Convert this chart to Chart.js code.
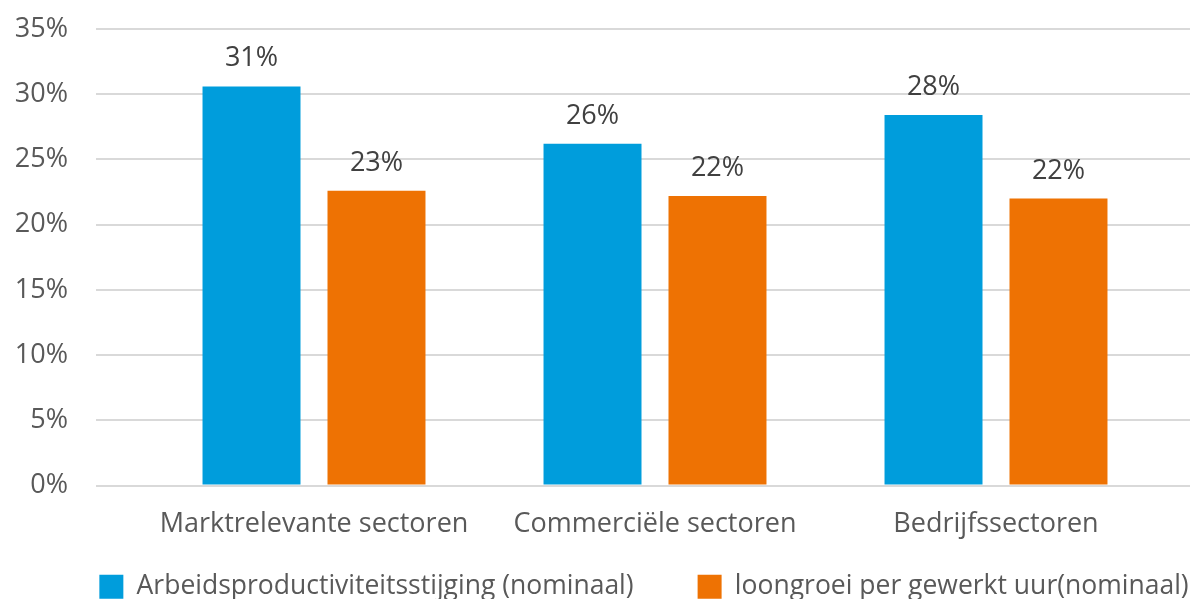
<!DOCTYPE html>
<html>
<head>
<meta charset="utf-8">
<script src="https://cdn.jsdelivr.net/npm/chart.js@4"></script>
<style>
  html, body { margin: 0; padding: 0; background: #fff; overflow: hidden; }
  #wrap { width: 1288px; height: 610px; }
</style>
</head>
<body>
<div id="wrap"><canvas id="myChart" width="1288" height="610"></canvas></div>
<script>
const categories = ['Marktrelevante sectoren', 'Commerciële sectoren', 'Bedrijfssectoren'];
const seriesNames = ['Arbeidsproductiviteitsstijging (nominaal)', 'loongroei per gewerkt uur(nominaal)'];
const productivity = [30.6, 26.2, 28.4];
const wageGrowth = [22.6, 22.2, 22.0];
const yTicks = [0, 5, 10, 15, 20, 25, 30, 35];

const FONT = "'Open Sans', sans-serif";

// labels above the bars
const barLabels = {
    id: 'barLabels',
    afterDatasetsDraw(chart) {
        const ctx = chart.ctx;
        ctx.save();
        ctx.font = '27px ' + FONT;
        ctx.fillStyle = '#404040';
        ctx.textAlign = 'center';
        ctx.textBaseline = 'alphabetic';
        chart.data.datasets.forEach((ds, i) => {
            chart.getDatasetMeta(i).data.forEach((bar, j) => {
                ctx.fillText(Math.round(ds.data[j].y) + '%', bar.x, bar.y - 20);
            });
        });
        ctx.restore();
    }
};

document.addEventListener('DOMContentLoaded', () => {
    const ctx = document.getElementById('myChart').getContext('2d');
    const myChart = new Chart(ctx, {
        type: 'bar',
        data: {
            datasets: [{
                label: seriesNames[0],
                data: productivity.map((v, i) => ({ x: i + 1, y: v })),
                backgroundColor: '#009DDC',
                categoryPercentage: 0.733,
                barPercentage: 0.784
            }, {
                label: seriesNames[1],
                data: wageGrowth.map((v, i) => ({ x: i + 1, y: v })),
                backgroundColor: '#EE7203',
                categoryPercentage: 0.733,
                barPercentage: 0.784
            }]
        },
        options: {
            responsive: false,
            animation: false,
            layout: { padding: { top: 29, left: 0, right: 0, bottom: 0 } },
            scales: {
                x: {
                    type: 'linear',
                    offset: false,
                    min: 0.3607,
                    max: 3.8563,
                    afterBuildTicks: (scale) => { scale.ticks = categories.map((c, i) => ({ value: i + 1 })); },
                    afterFit: (scale) => { scale.height = 24; },
                    grid: { display: false, drawTicks: false, offset: false },
                    border: { display: false },
                    ticks: {
                        mirror: true,
                        padding: -55,
                        color: '#595959',
                        font: { family: FONT, size: 27 },
                        maxRotation: 0,
                        autoSkip: false,
                        callback: (v) => categories[v - 1]
                    }
                },
                y: {
                    min: 0,
                    max: 35,
                    afterBuildTicks: (scale) => { scale.ticks = yTicks.map(v => ({ value: v })); },
                    afterFit: (scale) => { scale.width = 96; },
                    grid: { color: '#D9D9D9', lineWidth: 2, drawTicks: true, tickLength: 25, tickColor: 'transparent' },
                    border: { display: false },
                    ticks: {
                        padding: 3,
                        color: '#595959',
                        font: { family: FONT, size: 27 },
                        callback: (v) => v + '%'
                    }
                }
            },
            plugins: {
                tooltip: { enabled: false },
                legend: {
                    position: 'bottom',
                    labels: {
                        boxWidth: 24,
                        boxHeight: 24,
                        padding: 64,
                        color: '#595959',
                        font: { family: FONT, size: 26.5 }
                    }
                }
            }
        },
        plugins: [barLabels]
    });
});
</script>
</body>
</html>
